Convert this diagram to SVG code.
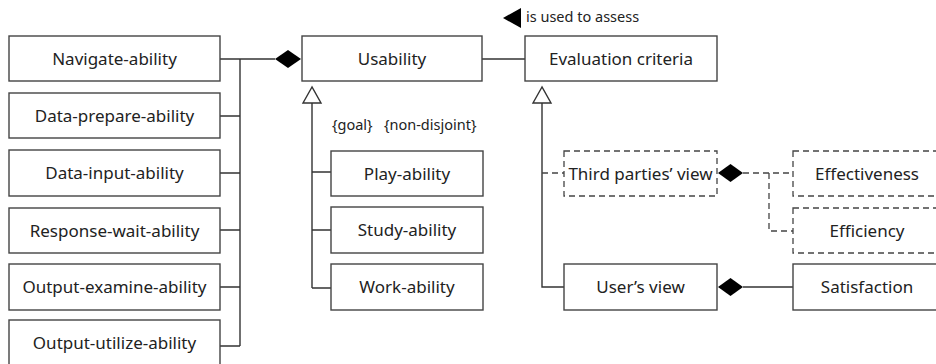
<svg xmlns="http://www.w3.org/2000/svg" width="936" height="364" viewBox="0 0 936 364">
  <style>
    .box { fill: #fff; stroke: #444; stroke-width: 1.4; }
    .dbox { fill: #fff; stroke: #444; stroke-width: 1.3; stroke-dasharray: 6 4; }
    .lbl { font-family: "Noto Sans", "Liberation Sans", sans-serif; font-size: 17px; fill: #222; text-anchor: middle; }
    .note { font-family: "Noto Sans", "Liberation Sans", sans-serif; font-size: 14.5px; fill: #222; }
    .ln { fill: none; stroke: #333; stroke-width: 1.4; }
    .dln { fill: none; stroke: #444; stroke-width: 1.3; stroke-dasharray: 6 4; }
    .dia { fill: #000; stroke: none; }
    .gen { fill: #fff; stroke: #333; stroke-width: 1.4; }
  </style>

  <!-- connectors -->
  <g id="connectors">
    <!-- part-of bus into Usability -->
    <path class="ln" d="M220 59 H275"/>
    <path class="ln" d="M240 59 V346"/>
    <path class="ln" d="M220 116 H240 M220 173 H240 M220 230 H240 M220 287 H240 M220 346 H240"/>
    <polygon class="dia" points="275,59 288,50 301,59 288,68"/>
    <!-- Usability to Evaluation criteria -->
    <path class="ln" d="M482 59 H525"/>
    <polygon class="dia" points="503,18 521,8 521,28"/>
    <!-- Usability specialisations -->
    <path class="ln" d="M312 103 V288 M312 172 H331 M312 230 H331 M312 288 H331"/>
    <polygon class="gen" points="312,87 303,103 321,103"/>
    <!-- Evaluation criteria specialisations -->
    <path class="ln" d="M542 103 V287 H564"/>
    <polygon class="gen" points="542,87 533,103 551,103"/>
    <path class="dln" d="M542 173 H564"/>
    <!-- Third parties' view parts -->
    <polygon class="dia" points="718,173 730.5,164 743,173 730.5,182"/>
    <path class="dln" d="M743 173 H793"/>
    <path class="dln" d="M769 173 V231 H793"/>
    <!-- User's view parts -->
    <polygon class="dia" points="718,287 730.5,278 743,287 730.5,296"/>
    <path class="ln" d="M743 287 H793"/>
  </g>

  <text class="note" x="526" y="22">is used to assess</text>
  <text class="note" x="332" y="130">{goal}</text>
  <text class="note" x="384" y="130">{non-disjoint}</text>

  <g id="navigate"><rect class="box" x="9" y="36" width="211" height="45"/><text class="lbl" x="114.5" y="64.5">Navigate-ability</text></g>
  <g id="data-prepare"><rect class="box" x="9" y="93" width="211" height="45"/><text class="lbl" x="114.5" y="121.5">Data-prepare-ability</text></g>
  <g id="data-input"><rect class="box" x="9" y="150" width="211" height="46"/><text class="lbl" x="114.5" y="179">Data-input-ability</text></g>
  <g id="response-wait"><rect class="box" x="9" y="208" width="211" height="45"/><text class="lbl" x="114.5" y="236.5">Response-wait-ability</text></g>
  <g id="output-examine"><rect class="box" x="9" y="264" width="211" height="46"/><text class="lbl" x="114.5" y="293">Output-examine-ability</text></g>
  <g id="output-utilize"><rect class="box" x="9" y="320" width="211" height="50"/><text class="lbl" x="114.5" y="349">Output-utilize-ability</text></g>

  <g id="usability"><rect class="box" x="302" y="36" width="180" height="45"/><text class="lbl" x="392" y="64.5">Usability</text></g>
  <g id="evaluation-criteria"><rect class="box" x="525" y="36" width="192" height="45"/><text class="lbl" x="621" y="64.5">Evaluation criteria</text></g>

  <g id="play"><rect class="box" x="331" y="151" width="152" height="45"/><text class="lbl" x="407" y="179.5">Play-ability</text></g>
  <g id="study"><rect class="box" x="331" y="207" width="152" height="46"/><text class="lbl" x="407" y="236">Study-ability</text></g>
  <g id="work"><rect class="box" x="331" y="264" width="152" height="46"/><text class="lbl" x="407" y="293">Work-ability</text></g>

  <g id="third-parties"><rect class="dbox" x="564" y="151" width="153" height="45"/><text class="lbl" x="640.5" y="179.5">Third parties’ view</text></g>
  <g id="users-view"><rect class="box" x="564" y="264" width="153" height="46"/><text class="lbl" x="640.5" y="293">User’s view</text></g>

  <g id="effectiveness"><rect class="dbox" x="793" y="151" width="148" height="45"/><text class="lbl" x="867" y="179.5">Effectiveness</text></g>
  <g id="efficiency"><rect class="dbox" x="793" y="208" width="148" height="45"/><text class="lbl" x="867" y="236.5">Efficiency</text></g>
  <g id="satisfaction"><rect class="box" x="793" y="264" width="148" height="46"/><text class="lbl" x="867" y="293">Satisfaction</text></g>
</svg>
